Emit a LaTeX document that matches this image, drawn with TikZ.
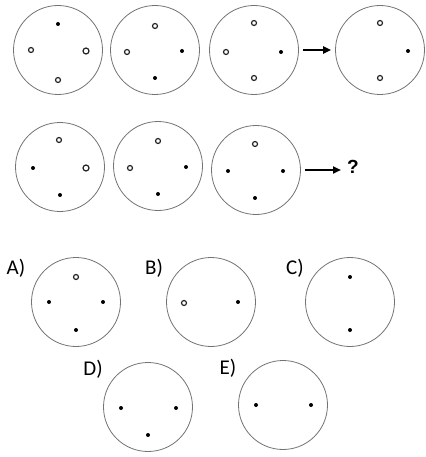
\documentclass[tikz,border=0pt]{standalone}
\usepackage{fontspec}
\setmainfont{Carlito}
\usetikzlibrary{arrows.meta}
\begin{document}
\begin{tikzpicture}[x=1pt,y=-1pt,
  ring/.style={circle,draw=black!55,line width=0.8pt,minimum size=89pt,inner sep=0pt},
  hole/.style={circle,draw=black!85,line width=1.2pt,minimum size=5pt,inner sep=0pt},
  dot/.style={circle,fill=black,minimum size=4pt,inner sep=0pt},
  lab/.style={font=\fontsize{21}{21}\selectfont,inner sep=0pt},
  arr/.style={-{Triangle[length=8pt,width=7pt]},line width=2pt}]
\useasboundingbox (0,0) rectangle (425,457);
% Row 1
\node[ring] (c11) at (58,50) {};
\node[dot] (d11t) at (58,24) {};
\node[hole] (d11l) at (31,50) {};
\node[hole,minimum width=6pt] (d11r) at (86,51) {};
\node[hole] (d11b) at (58,80) {};
\node[ring] (c12) at (155,50) {};
\node[hole] (d12t) at (155,26) {};
\node[hole] (d12l) at (127,52) {};
\node[dot] (d12r) at (182,51) {};
\node[dot] (d12b) at (155,78) {};
\node[ring] (c13) at (254,50) {};
\node[hole] (d13t) at (254,23) {};
\node[hole] (d13l) at (226,52) {};
\node[dot] (d13r) at (281,52) {};
\node[hole] (d13b) at (254,78) {};
\node[ring] (c14) at (380,50) {};
\node[hole] (d14t) at (380,23) {};
\node[dot] (d14r) at (408,51) {};
\node[hole] (d14b) at (380,78) {};
\draw[arr] ([xshift=4pt]c13.east) -- ([xshift=-4pt]c14.west);
% Row 2
\node[ring] (c21) at (60,167) {};
\node[hole] (d21t) at (59,140) {};
\node[dot] (d21l) at (33,168) {};
\node[hole,minimum width=6pt] (d21r) at (86,168) {};
\node[dot] (d21b) at (60,195) {};
\node[ring] (c22) at (158,166) {};
\node[hole] (d22t) at (158,141) {};
\node[hole] (d22l) at (130,168) {};
\node[dot] (d22r) at (186,167) {};
\node[dot] (d22b) at (158,194) {};
\node[ring] (c23) at (256,170) {};
\node[hole] (d23t) at (255,144) {};
\node[dot] (d23l) at (228,171) {};
\node[dot] (d23r) at (283,171) {};
\node[dot] (d23b) at (255,198) {};
\node[font=\fontspec{Liberation Sans}\bfseries\fontsize{19}{19}\selectfont,inner sep=0pt] (q) at (353,167) {?};
\coordinate (qa) at ([xshift=-6pt]q.west |- c23.east);
\draw[arr] ([xshift=4pt]c23.east) -- (qa);
% Answers
\node[lab] (la) at (16,268) {A)};
\node[ring] (ca) at (76,302) {};
\node[hole] (dat) at (76,277) {};
\node[dot] (dal) at (49,302) {};
\node[dot] (dar) at (103,302) {};
\node[dot] (dab) at (76,330) {};
\node[lab] (lb) at (154,268) {B)};
\node[ring] (cb) at (211,302) {};
\node[hole] (dbl) at (184,303) {};
\node[dot] (dbr) at (238,302) {};
\node[lab] (lc) at (295,268) {C)};
\node[ring] (cc) at (350,302) {};
\node[dot] (dct) at (350,277) {};
\node[dot] (dcb) at (350,330) {};
\node[lab] (ld) at (93,369) {D)};
\node[ring] (cd) at (148,407) {};
\node[dot] (ddl) at (121,408) {};
\node[dot] (ddr) at (176,408) {};
\node[dot] (ddb) at (148,435) {};
\node[lab] (le) at (228,368) {E)};
\node[ring] (ce) at (283,405) {};
\node[dot] (del) at (256,405) {};
\node[dot] (der) at (311,405) {};
\end{tikzpicture}
\end{document}
